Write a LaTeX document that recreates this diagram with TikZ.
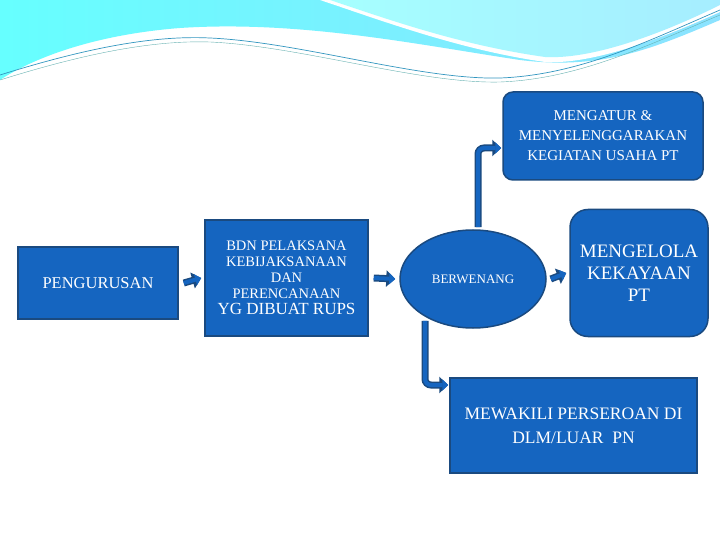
\documentclass[tikz,border=0pt]{standalone}
\usepackage{fontspec}
\setmainfont{Liberation Serif}
\usetikzlibrary{shapes.geometric,arrows.meta}
\definecolor{boxblue}{HTML}{1565C0}
\definecolor{edgeblue}{HTML}{1A4A80}
\newcommand{\fs}[2]{\fontsize{#1}{#2}\selectfont}
\tikzset{
 bx/.style={fill=boxblue,draw=edgeblue,line width=1.5pt,text=white,align=center,inner sep=2pt},
 conn/.style={draw=edgeblue,line width=7pt,-{Triangle[length=9pt,width=16pt]}},
 conninner/.style={draw=boxblue,line width=4pt,-{Triangle[length=6pt,width=11pt]}},
}
\begin{document}
\begin{tikzpicture}[x=1pt,y=-1pt]
\useasboundingbox (0,0) rectangle (720,540);
\fill[white] (0,0) rectangle (720,540);
% header waves
\shade[left color=cyan!60!white,right color=blue!25!cyan!45!white] (0,0) -- (720,0) -- (720,20) .. controls (650,50) and (600,70) .. (520,60) .. controls (420,45) and (300,20) .. (180,28) .. controls (90,35) and (30,60) .. (0,80) -- cycle;
\fill[white] (320,0) .. controls (380,20) and (460,50) .. (545,62) .. controls (600,65) and (680,30) .. (720,12) -- (720,0) -- cycle;
\shade[left color=cyan!35!white,right color=blue!20!cyan!35!white] (330,0) .. controls (390,20) and (460,45) .. (545,57) .. controls (600,60) and (680,25) .. (720,5) -- (720,0) -- cycle;
\draw[cyan!50!teal,line width=0.7pt] (0,75) .. controls (80,50) and (150,35) .. (210,38) .. controls (300,42) and (420,80) .. (500,78) .. controls (580,75) and (650,40) .. (720,10);
\draw[teal!60,line width=0.4pt] (0,80) .. controls (80,55) and (150,40) .. (210,42) .. controls (300,46) and (420,84) .. (500,82) .. controls (580,79) and (650,44) .. (720,15);
% nodes
\node[bx,minimum width=160pt,minimum height=72pt,font=\fs{16.5}{19}] (peng) at (98,283) {PENGURUSAN};
\node[bx,minimum width=163pt,minimum height=116pt,font=\fs{14.5}{16}] (bdn) at (286.5,278) {BDN PELAKSANA\\KEBIJAKSANAAN\\DAN\\PERENCANAAN\\{\fs{17}{19}YG DIBUAT RUPS}};
\node[bx,ellipse,minimum width=146pt,minimum height=98pt,font=\fs{13}{15}] (ber) at (473,279) {BERWENANG};
\node[bx,rounded corners=10pt,minimum width=200pt,minimum height=88pt,font=\fs{15}{20}] (mengatur) at (603,136) {MENGATUR \&\\MENYELENGGARAKAN\\KEGIATAN USAHA PT};
\node[bx,rounded corners=18pt,minimum width=138pt,minimum height=127pt,font=\fs{19}{22}] (mengelola) at (639,273) {MENGELOLA\\KEKAYAAN\\PT};
\node[bx,minimum width=247pt,minimum height=95pt,font=\fs{17.5}{24}] (mewakili) at (573.5,425.5) {MEWAKILI PERSEROAN DI\\DLM/LUAR\ \ PN};
% connectors
\foreach \s in {conn,conninner}{
 \draw[\s] ([xshift=5pt]peng.east) -- ([xshift=-3pt]bdn.west);
 \draw[\s] ([xshift=5pt]bdn.east) -- ([xshift=-4pt]ber.west);
 \draw[\s] ([xshift=4pt]ber.east) -- ([xshift=-3pt]mengelola.west);
 \draw[\s,rounded corners=6pt] (ber.north -| 478,0) ++(0,-2) |- ([xshift=-1pt]mengatur.west |- 0,148);
 \draw[\s,rounded corners=6pt] (ber.south -| 425,0) ++(0,-8) |- ([xshift=-1pt]mewakili.west |- 0,385);
}
\end{tikzpicture}
\end{document}
